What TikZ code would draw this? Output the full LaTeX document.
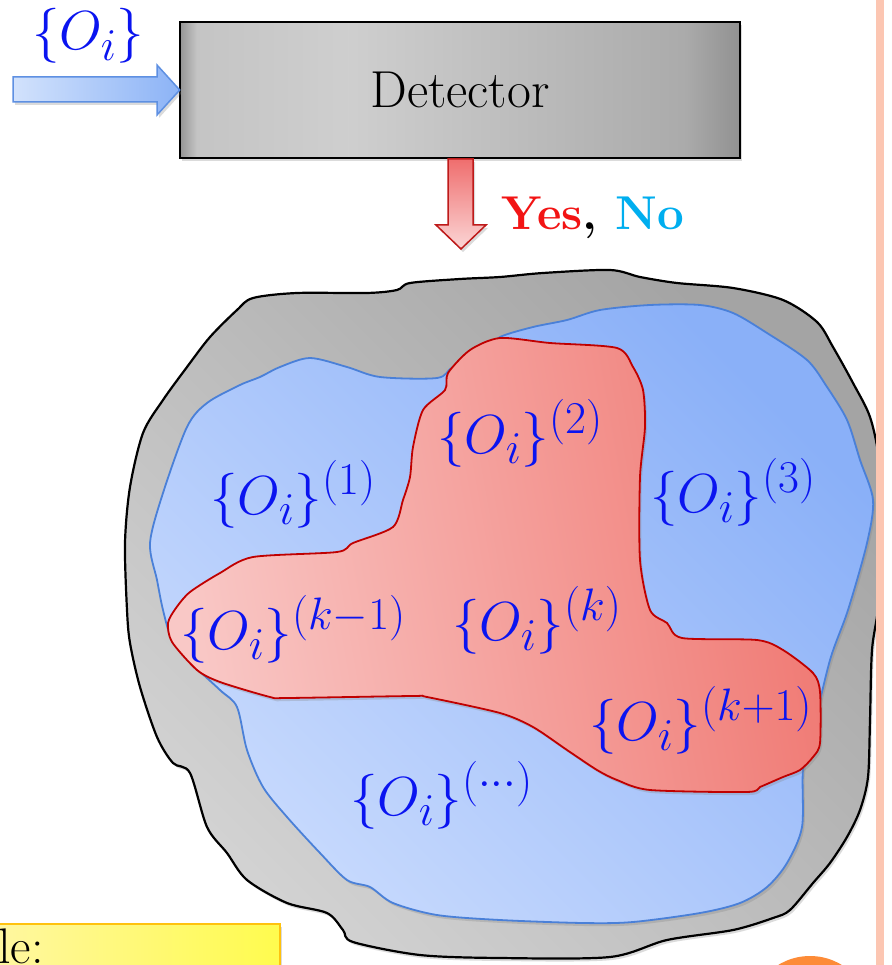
\RequirePackage{fix-cm}
\documentclass[tikz,border=0pt]{standalone}
\usetikzlibrary{shadows}
\DeclareMathSizes{55}{55}{45.5}{36}
\newcommand\labfont{\fontsize{55}{66}\selectfont}
\definecolor{lblue}{HTML}{0A14F0}
\definecolor{yesred}{HTML}{F21414}
\definecolor{nocyan}{HTML}{00AEEF}
\definecolor{grayA}{HTML}{A4A4A4}
\definecolor{grayB}{HTML}{D2D2D2}
\definecolor{blueA}{HTML}{8AB0F8}
\definecolor{blueB}{HTML}{C8DAFD}
\definecolor{blueEdge}{HTML}{4A80D8}
\definecolor{redA}{HTML}{F9C8C6}
\definecolor{redB}{HTML}{F07A74}
\definecolor{redEdge}{HTML}{C00000}
\definecolor{arrBlueA}{HTML}{D2E2FC}
\definecolor{arrBlueB}{HTML}{8CB3F6}
\definecolor{arrBlueEdge}{HTML}{5E90E2}
\definecolor{arrRedA}{HTML}{EF6E6E}
\definecolor{arrRedB}{HTML}{FBD6D6}
\definecolor{arrRedEdge}{HTML}{BE1A1A}
\definecolor{yelA}{HTML}{FFF7A2}
\definecolor{yelB}{HTML}{FFFB4E}
\definecolor{yelEdge}{HTML}{FFC20E}
\definecolor{orangeC}{HTML}{FD8B37}
\definecolor{salmon}{HTML}{FCC6B2}
\pgfdeclarehorizontalshading{detshade}{100bp}{rgb(0bp)=(0.55,0.55,0.55); rgb(25bp)=(0.58,0.58,0.58); rgb(26.5bp)=(0.77,0.77,0.77); rgb(40bp)=(0.81,0.81,0.81); rgb(70bp)=(0.67,0.67,0.67); rgb(75bp)=(0.57,0.57,0.57); rgb(100bp)=(0.55,0.55,0.55)}
\tikzset{
  lab/.style={anchor=base west, inner sep=0pt, text=lblue, font=\labfont},
  softshadow/.style={drop shadow={opacity=0.28, shadow xshift=2pt, shadow yshift=-3pt}},
}
\begin{document}
\begin{tikzpicture}[x=1pt, y=-1pt, font=\fontsize{50}{60}\selectfont]
\useasboundingbox (0,0) rectangle (891,965);
\fill[white] (0,0) rectangle (891,965);

% outer gray blob
\path[draw=black, line width=2.2pt, softshadow, top color=grayA, bottom color=grayB, shading angle=-45]
  plot[smooth cycle, tension=0.5] coordinates {
  (237,310) (253,298) (297,293) (367,293) (397,290) (410,283) (460,279) (500,277)
  (543,273) (610,270) (640,277) (677,283) (733,288) (783,300) (817,322) (833,347)
  (853,383) (870,417) (879,460) (881,520) (879,600) (872,650) (870,720) (868,777)
  (860,810) (847,837) (830,863) (813,883) (790,910) (773,918) (733,930) (667,940)
  (610,957) (500,958) (420,955) (353,942) (343,930) (327,913) (287,903) (247,880)
  (227,853) (207,827) (190,773) (173,763) (157,737) (140,687) (130,643) (127,610)
  (125,543) (130,487) (143,433) (163,400) (187,367) (210,337)};

% blue region
\path[draw=blueEdge, line width=1.8pt, softshadow, top color=blueA, bottom color=blueB, shading angle=-45]
  plot[smooth cycle, tension=0.5] coordinates {
  (150,543) (157,580) (163,610) (172,640) (190,662) (220,690) (237,707) (247,750)
  (263,787) (287,817) (320,853) (347,880) (370,887) (393,903) (437,915) (500,920)
  (583,923) (633,922) (700,913) (740,903) (767,887) (787,863) (802,827) (803,770)
  (812,735) (830,660) (848,610) (867,543) (873,500) (860,460) (847,420) (827,387)
  (807,360) (767,333) (733,313) (700,305) (650,305) (600,310) (567,320) (533,327)
  (500,337) (487,350) (453,367) (437,378) (380,377) (347,367) (310,358) (280,367)
  (260,377) (240,385) (207,403) (187,427) (163,493)};

% red region
\path[draw=redEdge, line width=1.8pt, softshadow, left color=redA, right color=redB, shading angle=100]
  plot[smooth cycle, tension=0.45] coordinates {
  (448,373) (470,350) (500,338) (550,343) (617,348) (633,367) (643,390) (645,427)
  (640,477) (640,560) (650,610) (667,623) (682,638) (757,640) (783,650) (813,673)
  (820,692) (820,743) (813,757) (800,770) (783,777) (760,787) (747,792) (650,790)
  (617,780) (597,770) (567,750) (533,727) (500,713) (427,697) (413,696) (287,698)
  (270,697) (220,682) (197,670) (172,642) (168,623) (176,608) (190,592) (220,573)
  (253,557) (337,552) (353,543) (393,527) (403,500) (410,477) (413,447) (423,410)
  (445,390)};

% labels inside regions
\node[lab] (s1) at (210,514) {$\{O_i\}^{(1)}$};
\node[lab] (s2) at (437,453) {$\{O_i\}^{(2)}$};
\node[lab] (s3) at (650,512) {$\{O_i\}^{(3)}$};
\node[lab] (skm) at (180,649) {$\{O_i\}^{(k-1)}$};
\node[lab] (sk) at (452,640) {$\{O_i\}^{(k)}$};
\node[lab] (skp) at (589,740) {$\{O_i\}^{(k+1)}$};
\node[lab] (sdots) at (350,815) {$\{O_i\}^{(\cdots)}$};

% detector box
\node[draw=black, line width=2.6pt, shade, shading=detshade, softshadow,
      minimum width=560pt, minimum height=136pt, inner sep=0pt] (det) at (460,90) {};
\node[anchor=base, inner sep=0pt, font=\fontsize{52}{62}\selectfont] (dettext) at (460,108) {Detector};

% input label and arrow
\node[lab] (inp) at (32,50) {$\{O_i\}$};
\coordinate (intip) at (det.west);
\draw[draw=arrBlueEdge, line width=1.5pt, left color=arrBlueA, right color=arrBlueB, softshadow]
  (13,77) -- (157,77) -- (157,65) -- ([xshift=1pt]intip) -- (157,115) -- (157,102) -- (13,102) -- cycle;

% output arrow
\draw[draw=arrRedEdge, line width=1.5pt, top color=arrRedA, bottom color=arrRedB, softshadow]
  (448,159) -- (473,159) -- (473,225) -- (486,225) -- (461,249) -- (436,225) -- (448,225) -- cycle;

\node[anchor=base west, inner sep=0pt, font=\fontsize{47.5}{57}\selectfont] (yn) at (501,230)
  {\bfseries\textcolor{yesred}{Yes}, \textcolor{nocyan}{No}};

% yellow box (cut off)
\draw[draw=yelEdge, line width=1.6pt, left color=yelA, right color=yelB, softshadow]
  (-10,924) rectangle (280,1010);
\node[anchor=base west, inner sep=0pt] (ex) at (-2,963) {le:};

% orange circle (cut off)
\fill[orangeC] (810,1017) circle (61);

% right strip
\fill[salmon] (876,0) rectangle (884,965);
\end{tikzpicture}
\end{document}
